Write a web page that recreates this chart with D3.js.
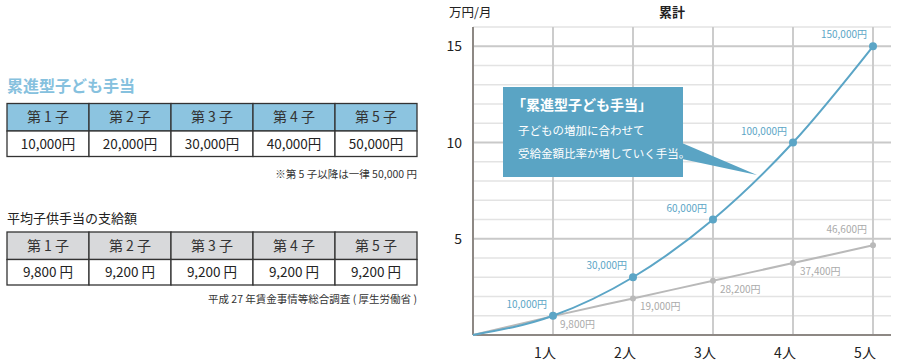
<!DOCTYPE html>
<html><head><meta charset="utf-8">
<script src="https://cdn.jsdelivr.net/npm/d3@7"></script>
<style>
body{margin:0;background:#fff;}
svg{font-family:"Noto Sans CJK JP","Noto Sans",sans-serif;}
</style></head>
<body><svg id="c" width="900" height="364"></svg>
<script>
const childLabels = ["第 1 子","第 2 子","第 3 子","第 4 子","第 5 子"];
const progressiveValues = ["10,000円","20,000円","30,000円","40,000円","50,000円"];
const averageValues = ["9,800 円","9,200 円","9,200 円","9,200 円","9,200 円"];
const xCategories = [0,1,2,3,4,5];
const xTickLabels = ["1人","2人","3人","4人","5人"];
const cumulativeProgressive = [0,1,3,6,10,15];
const cumulativeAverage = [0,0.98,1.9,2.82,3.74,4.66];
const progressiveLabels = ["","10,000円","30,000円","60,000円","100,000円","150,000円"];
const averageLabels = ["","9,800円","19,000円","28,200円","37,400円","46,600円"];
const yTicks = [5,10,15];

const svg = d3.select("#c");
const BLUE = "#5ba5c6", GRAY = "#b9b9b9";

// ---------- Left tables ----------
function table(y0, headFill, values){
  const x = d3.scaleBand().domain(d3.range(5)).range([7,417]);
  const g = svg.append("g");
  const rh1 = 27.5, rh2 = 25.5;
  g.selectAll("rect.h").data(childLabels).join("rect")
    .attr("x",(d,i)=>x(i)).attr("y",y0).attr("width",x.bandwidth()).attr("height",rh1)
    .attr("fill",headFill).attr("stroke","#333").attr("stroke-width",1.3);
  g.selectAll("rect.v").data(values).join("rect")
    .attr("x",(d,i)=>x(i)).attr("y",y0+rh1).attr("width",x.bandwidth()).attr("height",rh2)
    .attr("fill","#fff").attr("stroke","#333").attr("stroke-width",1.3);
  g.selectAll("text.h").data(childLabels).join("text")
    .attr("x",(d,i)=>x(i)+x.bandwidth()/2).attr("y",y0+rh1/2+5)
    .attr("text-anchor","middle").attr("font-size",14).attr("fill","#333").text(d=>d);
  g.selectAll("text.v").data(values).join("text")
    .attr("x",(d,i)=>x(i)+x.bandwidth()/2).attr("y",y0+rh1+rh2/2+5)
    .attr("text-anchor","middle").attr("font-size",13.5).attr("fill","#222").text(d=>d);
}
svg.append("text").attr("x",7).attr("y",92).attr("font-size",16).attr("font-weight","bold")
  .attr("fill","#86c1de").text("累進型子ども手当");
table(103.5, "#8cc4e0", progressiveValues);
svg.append("text").attr("x",417).attr("y",178).attr("text-anchor","end").attr("font-size",10.5)
  .attr("fill","#333").text("※第 5 子以降は一律 50,000 円");

svg.append("text").attr("x",7).attr("y",223).attr("font-size",13)
  .attr("fill","#222").text("平均子供手当の支給額");
table(232, "#d8d9db", averageValues);
svg.append("text").attr("x",417).attr("y",303).attr("text-anchor","end").attr("font-size",10.5)
  .attr("fill","#333").text("平成 27 年賃金事情等総合調査 ( 厚生労働省 )");

// ---------- Chart ----------
const x = d3.scaleLinear().domain([0,5]).range([473,873]);
const y = d3.scaleLinear().domain([0,16]).range([335,27]);
const cg = svg.append("g");

// minor horizontal grid
cg.selectAll("line.minor").data(d3.range(1,17).filter(v=>v%5!==0)).join("line")
  .attr("x1",x(0)).attr("x2",891).attr("y1",d=>y(d)).attr("y2",d=>y(d))
  .attr("stroke","#e3e3e3").attr("stroke-width",1.5);
// vertical grid
cg.selectAll("line.v").data(xCategories.slice(1)).join("line")
  .attr("x1",d=>x(d)).attr("x2",d=>x(d)).attr("y1",y(16)).attr("y2",y(0))
  .attr("stroke","#cccccc").attr("stroke-width",2);
// major horizontal grid
cg.selectAll("line.major").data(yTicks).join("line")
  .attr("x1",x(0)).attr("x2",891).attr("y1",d=>y(d)).attr("y2",d=>y(d))
  .attr("stroke","#c9c9c9").attr("stroke-width",2);
// axes
cg.append("line").attr("x1",x(0)).attr("x2",x(0)).attr("y1",y(16)).attr("y2",y(0))
  .attr("stroke","#8d8884").attr("stroke-width",2);
cg.append("line").attr("x1",x(0)).attr("x2",891).attr("y1",y(0)).attr("y2",y(0))
  .attr("stroke","#8d8884").attr("stroke-width",2);

// y tick labels
cg.selectAll("text.yt").data(yTicks).join("text")
  .attr("x",462).attr("y",d=>y(d)+5).attr("text-anchor","end").attr("font-size",14)
  .attr("fill","#222").text(d=>d);
// x tick labels
cg.selectAll("text.xt").data(xTickLabels).join("text")
  .attr("x",(d,i)=>x(i+1)-8).attr("y",358).attr("text-anchor","middle").attr("font-size",14)
  .attr("fill","#222").text(d=>d);
// units and title
svg.append("text").attr("x",449).attr("y",17).attr("font-size",12.5).attr("fill","#222").text("万円/月");
svg.append("text").attr("x",672).attr("y",17).attr("text-anchor","middle").attr("font-size",13)
  .attr("font-weight","bold").attr("fill","#222").text("累計");

// lines
const line = d3.line().x((d,i)=>x(xCategories[i])).y(d=>y(d)).curve(d3.curveMonotoneX);
cg.append("path").datum(cumulativeAverage).attr("d",line).attr("fill","none")
  .attr("stroke",GRAY).attr("stroke-width",2);
cg.append("path").datum(cumulativeProgressive).attr("d",line).attr("fill","none")
  .attr("stroke",BLUE).attr("stroke-width",2);
cg.selectAll("circle.a").data(cumulativeAverage.slice(1)).join("circle")
  .attr("cx",(d,i)=>x(xCategories[i+1])).attr("cy",d=>y(d)).attr("r",3).attr("fill",GRAY);
cg.selectAll("circle.p").data(cumulativeProgressive.slice(1)).join("circle")
  .attr("cx",(d,i)=>x(xCategories[i+1])).attr("cy",d=>y(d)).attr("r",4).attr("fill",BLUE);
// point labels
cg.selectAll("text.pl").data(progressiveLabels.slice(1)).join("text")
  .attr("x",(d,i)=>x(xCategories[i+1])-6).attr("y",(d,i)=>y(cumulativeProgressive[i+1])-8)
  .attr("text-anchor","end").attr("font-size",10).attr("fill",BLUE).text(d=>d);
cg.selectAll("text.al").data(averageLabels.slice(1)).join("text")
  .attr("x",(d,i)=>x(xCategories[i+1])+(i===4?-6:7))
  .attr("y",(d,i)=>i===4 ? y(cumulativeAverage[i+1])-12 : y(cumulativeAverage[i+1])+12)
  .attr("text-anchor",(d,i)=>i===4?"end":"start")
  .attr("font-size",10).attr("fill","#aaa").text(d=>d);

// callout
const cb = svg.append("g");
cb.append("path").attr("d","M682,143 L757,175 L682,159 Z").attr("fill","#5aa4c4");
cb.append("rect").attr("x",503).attr("y",87).attr("width",180).attr("height",90).attr("fill","#5aa4c4");
cb.append("text").attr("x",512).attr("y",110).attr("font-size",14).attr("font-weight","bold")
  .attr("fill","#fff").text("「累進型子ども手当」");
cb.append("text").attr("x",518).attr("y",135).attr("font-size",11.5).attr("fill","#fff").text("子どもの増加に合わせて");
cb.append("text").attr("x",518).attr("y",158).attr("font-size",11.5).attr("fill","#fff").text("受給金額比率が増していく手当。");
</script></body></html>
